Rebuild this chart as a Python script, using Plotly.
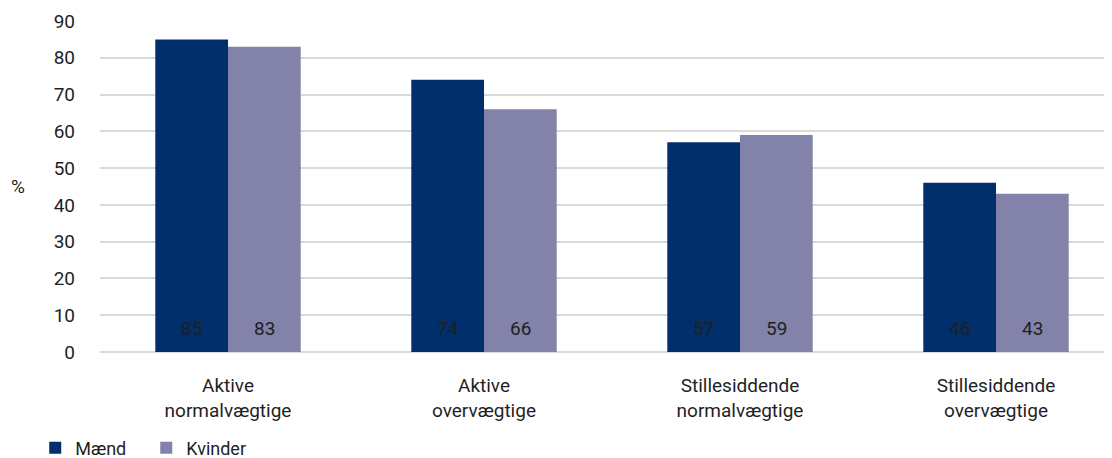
import plotly.graph_objects as go

categories = ["Aktive<br>normalvægtige", "Aktive<br>overvægtige",
              "Stillesiddende<br>normalvægtige", "Stillesiddende<br>overvægtige"]
maend = [85, 74, 57, 46]
kvinder = [83, 66, 59, 43]
y_ticks = [0, 10, 20, 30, 40, 50, 60, 70, 80, 90]

FONT = "Roboto"
TXT = "#1f1f1f"
W, H = 1104, 450  # page body has an 8px margin
ML, MR, MT, MB = 92, 0, 13, 106
CAT_PX = 256  # width of one category band in the reference
fig = go.Figure()
series = [("Mænd", maend, "#002F6C"), ("Kvinder", kvinder, "#8282AA")]
for name, vals, col in series:
    fig.add_trace(go.Bar(
        x=categories, y=vals, name=name, marker=dict(color=col, line=dict(width=0)),
        hoverinfo="x+y+name",
    ))

bargap = 0.432
plot_w = W - ML - MR
bar_px = CAT_PX * (1 - bargap) / 2
annotations = []
for i, (name, vals, col) in enumerate(series):
    shift = (i - 0.5) * bar_px
    for c, v in zip(categories, vals):
        annotations.append(dict(x=c, y=0, xref="x", yref="y", text=str(v),
                                showarrow=False, xshift=shift, yshift=24,
                                yanchor="middle", font=dict(size=19, color=TXT)))
annotations.append(dict(text="%", xref="paper", yref="paper", x=-(ML - 10) / plot_w, y=0.5,
                        showarrow=False, xanchor="center", yanchor="middle",
                        font=dict(size=19)))

fig.update_layout(
    width=W, height=H,
    margin=dict(l=ML, r=MR, t=MT, b=MB, autoexpand=False),
    paper_bgcolor="white", plot_bgcolor="white",
    barmode="group", bargap=bargap, bargroupgap=0,
    font=dict(family=FONT, size=19, color=TXT),
    showlegend=True,
    legend=dict(orientation="h", x=-0.064, xanchor="left", y=-0.29, yanchor="middle",
                font=dict(size=18, family=FONT, color=TXT), traceorder="normal",
                itemwidth=30, entrywidthmode="pixels", entrywidth=66),
    xaxis=dict(showline=False, ticks="", tickfont=dict(size=19), showgrid=False,
               ticklabelstandoff=20, range=[-0.5, -0.5 + plot_w / CAT_PX]),
    yaxis=dict(range=[0, 90], tickvals=y_ticks, showgrid=True, gridcolor="#D9D9D9",
               gridwidth=2, zeroline=True, zerolinecolor="#D9D9D9", zerolinewidth=2,
               ticks="", ticklabelstandoff=24, tickfont=dict(size=19)),
    annotations=annotations,
)
fig.write_html("out.html")
